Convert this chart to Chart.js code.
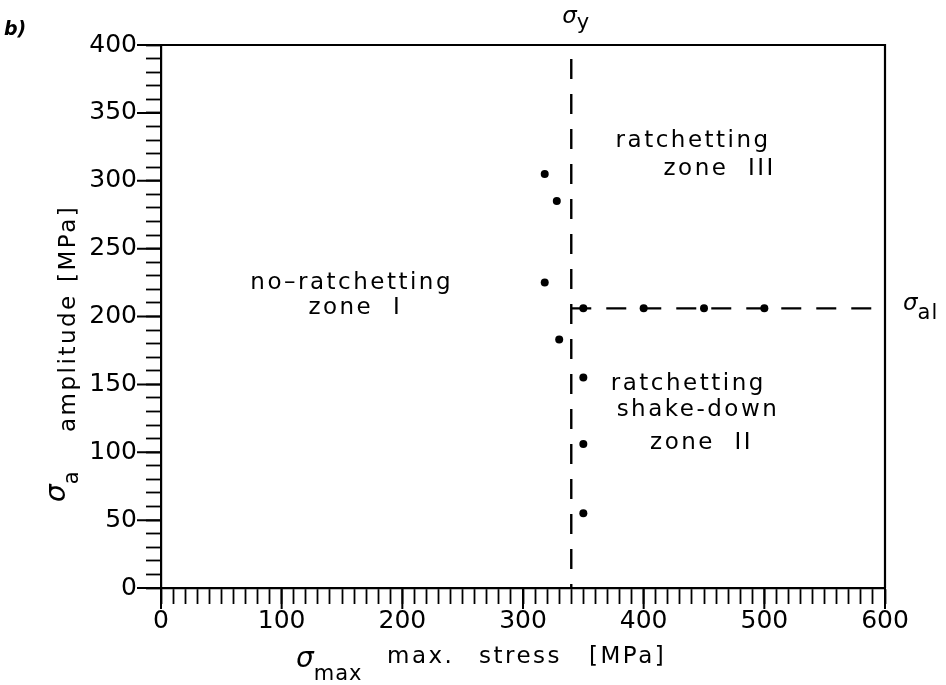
<!DOCTYPE html>
<html>
<head>
<meta charset="utf-8">
<script src="https://cdn.jsdelivr.net/npm/chart.js@4.4.0/dist/chart.umd.min.js"></script>
<style>
  html, body { margin: 0; padding: 0; background: #fff; }
  #wrap { width: 946px; height: 685px; position: relative; }
</style>
</head>
<body>
<div id="wrap"><canvas id="ratchetChart"></canvas></div>
<script>
// sigma_y and sigma_al limits (MPa)
const yieldStress = 340;
const alternatingLimit = 206;

// tests near the yield stress
const testMaxStress = [318, 328, 318, 330, 350, 350, 350];
const testAmplitude = [305, 285, 225, 183, 155, 106, 55];

// tests on the sigma_al line
const limitMaxStress = [350, 400, 450, 500];
const limitAmplitude = [206, 206, 206, 206];

// labelled ticks
const xTickLabels = [0, 100, 200, 300, 400, 500, 600];
const yTickLabels = [0, 50, 100, 150, 200, 250, 300, 350, 400];

const FONT = '"DejaVu Sans", sans-serif';

// zone labels, placed in data units
const zoneLabels = [
    { text: 'no\u2013ratchetting', x: 158, y: 225 },
    { text: 'zone  I', x: 161, y: 206 },
    { text: 'ratchetting', x: 441, y: 329 },
    { text: 'zone  III', x: 463, y: 309 },
    { text: 'ratchetting', x: 437, y: 150 },
    { text: 'shake-down', x: 445, y: 131 },
    { text: 'zone  II', x: 448, y: 107 }
];

function drawSigma(ctx, x, y, sub, size, subSize, subDrop) {
    ctx.font = 'italic ' + size + 'px ' + FONT;
    ctx.textAlign = 'left';
    ctx.textBaseline = 'alphabetic';
    ctx.letterSpacing = '0px';
    ctx.fillText('\u03c3', x, y);
    const w = ctx.measureText('\u03c3').width;
    ctx.font = subSize + 'px ' + FONT;
    ctx.letterSpacing = '1px';
    ctx.fillText(sub, x + w, y + subDrop);
}

const decorations = {
    id: 'decorations',
    afterDraw(chart) {
        const ctx = chart.ctx;
        const { left, right, top, bottom } = chart.chartArea;
        const xs = chart.scales.x, ys = chart.scales.y;
        ctx.save();
        ctx.fillStyle = '#000';
        ctx.strokeStyle = '#000';

        // top and right frame
        ctx.lineWidth = 2.2;
        ctx.beginPath();
        ctx.moveTo(left - 1, top);
        ctx.lineTo(right, top);
        ctx.lineTo(right, bottom);
        ctx.stroke();

        // longer major ticks
        ctx.lineWidth = 2;
        ctx.beginPath();
        yTickLabels.forEach(v => {
            const p = ys.getPixelForValue(v);
            ctx.moveTo(left - 24, p);
            ctx.lineTo(left, p);
        });
        xTickLabels.forEach(v => {
            const p = xs.getPixelForValue(v);
            ctx.moveTo(p, bottom);
            ctx.lineTo(p, bottom + 21);
        });
        ctx.stroke();

        // zone texts
        ctx.font = '23px ' + FONT;
        ctx.letterSpacing = '2.5px';
        ctx.textAlign = 'center';
        ctx.textBaseline = 'middle';
        zoneLabels.forEach(l => {
            ctx.fillText(l.text, xs.getPixelForValue(l.x), ys.getPixelForValue(l.y));
        });

        // sigma_y above the plot, sigma_al right of it
        drawSigma(ctx, xs.getPixelForValue(yieldStress) - 9, 23, 'y', 23, 21, 6);
        drawSigma(ctx, right + 18, ys.getPixelForValue(alternatingLimit) + 2, 'al', 23, 21, 9);

        // x axis title
        drawSigma(ctx, 296, 667, 'max', 28, 21, 13);
        ctx.font = '23px ' + FONT;
        ctx.letterSpacing = '2.5px';
        ctx.textAlign = 'left';
        ctx.fillText('max.', 387, 663);
        ctx.fillText('stress', 479, 663);
        ctx.fillText('[MPa]', 589, 663);

        // y axis title, rotated
        ctx.save();
        ctx.translate(65, 502);
        ctx.rotate(-Math.PI / 2);
        drawSigma(ctx, 0, 0, 'a', 28, 21, 13);
        ctx.font = '23px ' + FONT;
        ctx.letterSpacing = '2.5px';
        ctx.fillText('amplitude', 70, 10);
        ctx.fillText('[MPa]', 220, 10);
        ctx.restore();

        // panel letter
        ctx.font = 'italic bold 19px ' + FONT;
        ctx.letterSpacing = '0px';
        ctx.fillText('b)', 4, 35);
        ctx.restore();
    }
};

new Chart(document.getElementById('ratchetChart'), {
    type: 'scatter',
    data: {
        datasets: [
            {
                label: 'tests',
                data: testMaxStress.map((x, i) => ({ x: x, y: testAmplitude[i] })),
                pointRadius: 4,
                pointBackgroundColor: '#000',
                pointBorderColor: '#000',
                pointBorderWidth: 0
            },
            {
                label: 'sigma_al tests',
                data: limitMaxStress.map((x, i) => ({ x: x, y: limitAmplitude[i] })),
                pointRadius: 4,
                pointBackgroundColor: '#000',
                pointBorderColor: '#000',
                pointBorderWidth: 0
            },
            {
                label: 'sigma_y',
                data: [{ x: yieldStress, y: 400 }, { x: yieldStress, y: 0 }],
                showLine: true,
                borderColor: '#000',
                borderWidth: 2.4,
                borderDash: [20, 15],
                borderDashOffset: 21,
                pointRadius: 0
            },
            {
                label: 'sigma_al',
                data: [{ x: yieldStress, y: alternatingLimit }, { x: 600, y: alternatingLimit }],
                showLine: true,
                borderColor: '#000',
                borderWidth: 2.4,
                borderDash: [20, 15],
                pointRadius: 0
            }
        ]
    },
    options: {
        responsive: true,
        maintainAspectRatio: false,
        animation: false,
        devicePixelRatio: 1,
        layout: { padding: { top: 45, right: 61, left: 0, bottom: 0 } },
        plugins: {
            legend: { display: false },
            tooltip: { enabled: false }
        },
        scales: {
            x: {
                type: 'linear',
                min: 0,
                max: 600,
                afterFit: (scale) => { scale.height = 97; },
                border: { display: true, color: '#000', width: 2.2 },
                grid: { drawOnChartArea: false, drawTicks: true, tickLength: 16, tickColor: '#000', tickWidth: 1.8 },
                ticks: {
                    stepSize: 10,
                    autoSkip: false,
                    maxRotation: 0,
                    padding: 2,
                    color: '#000',
                    font: { family: FONT, size: 25 },
                    callback: (v) => (v % 100 === 0 ? v : '')
                }
            },
            y: {
                type: 'linear',
                min: 0,
                max: 400,
                afterFit: (scale) => { scale.width = 161; },
                border: { display: true, color: '#000', width: 2.2 },
                grid: { drawOnChartArea: false, drawTicks: true, tickLength: 15, tickColor: '#000', tickWidth: 1.8 },
                ticks: {
                    stepSize: 10,
                    autoSkip: false,
                    padding: 9,
                    color: '#000',
                    font: { family: FONT, size: 25 },
                    callback: (v) => (v % 50 === 0 ? v : '')
                }
            }
        }
    },
    plugins: [decorations]
});
</script>
</body>
</html>
